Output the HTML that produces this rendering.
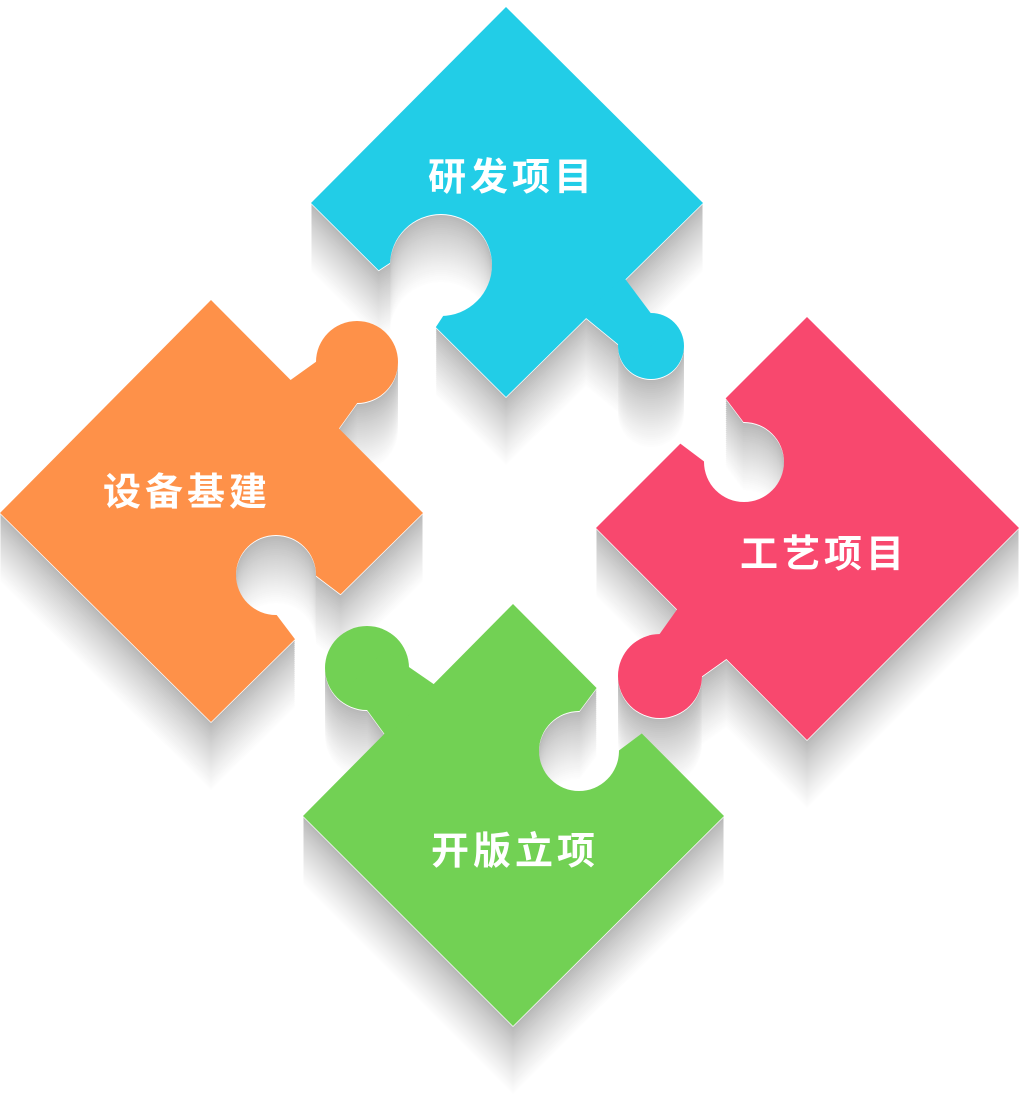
<!DOCTYPE html>
<html><head><meta charset="utf-8">
<style>
html,body{margin:0;padding:0;background:#fff;}
svg{display:block;}
text{font-family:"Liberation Sans","Noto Sans CJK SC",sans-serif;font-size:38px;fill:#fff;letter-spacing:4px;font-weight:bold;}
</style></head>
<body>
<svg id="s" width="1019" height="1107" viewBox="0 0 1019 1107" xmlns="http://www.w3.org/2000/svg">
<defs id="d"></defs>
<g id="sh"></g>
<g id="pc"></g>
<text x="512" y="190" text-anchor="middle">研发项目</text>
<text x="187" y="505" text-anchor="middle">设备基建</text>
<text x="824" y="567" text-anchor="middle">工艺项目</text>
<text x="515" y="864" text-anchor="middle">开版立项</text>
</svg>
<script>
var NS="http://www.w3.org/2000/svg";
var P=[
 {id:"b",col:"#22cde7",pts:[[506,7],[703,203],[506,397],[311,203]],knob:{m:[606,299],c:[651,346],r:33},hole:{m:[407,299],c:[441,265],r:51}},
 {id:"o",col:"#fe9149",pts:[[211,300],[423,513],[211,722],[0,513]],knob:{m:[315,404],c:[357,362],r:41},hole:{m:[318,617],c:[276,575],r:40}},
 {id:"p",col:"#f8486e",pts:[[807,317],[1019,528],[807,740],[596,528]],knob:{m:[702,634],c:[660,676],r:42},hole:{m:[703,421],c:[744,462],r:40}},
 {id:"g",col:"#72d154",pts:[[513,604],[724,816],[513,1026],[303,816]],knob:{m:[409,709],c:[367,668],r:42},hole:{m:[619,711],c:[579,751],r:40}}
];
function el(t,a,p){var e=document.createElementNS(NS,t);for(var k in a)e.setAttribute(k,a[k]);if(p)p.appendChild(e);return e;}
function neck(m,c,r,ext){
 var dx=c[0]-m[0],dy=c[1]-m[1],L=Math.hypot(dx,dy);var ux=dx/L,uy=dy/L,nx=-uy,ny=ux;
 var w1=r*1.0,w2=r*0.7;
 var mx=m[0]-ux*ext,my=m[1]-uy*ext;
 return [[mx+nx*w1,my+ny*w1],[c[0]+nx*w2,c[1]+ny*w2],[c[0]-nx*w2,c[1]-ny*w2],[mx-nx*w1,my-ny*w1]].map(function(p){return p.join(",")}).join(" ");
}
var d=document.getElementById("d"),sh=document.getElementById("sh"),pc=document.getElementById("pc");
P.forEach(function(p){
 var mk=el("mask",{id:"m"+p.id,maskUnits:"userSpaceOnUse",x:-100,y:-100,width:1300,height:1400},d);
 el("rect",{x:-100,y:-100,width:1300,height:1400,fill:"#fff"},mk);
 el("circle",{cx:p.hole.c[0],cy:p.hole.c[1],r:p.hole.r,fill:"#000"},mk);
 el("polygon",{points:neck(p.hole.m,p.hole.c,p.hole.r*0.85,14),fill:"#000"},mk);
 var g=el("g",{id:"P"+p.id},d);
 var gi=el("g",{mask:"url(#m"+p.id+")"},g);
 el("polygon",{points:p.pts.map(function(q){return q.join(",")}).join(" ")},gi);
 el("circle",{cx:p.knob.c[0],cy:p.knob.c[1],r:p.knob.r},gi);
 el("polygon",{points:neck(p.knob.m,p.knob.c,p.knob.r*0.85,4)},gi);
});
for(var k=70;k>=2;k-=2){
 var t=k/70;var v=Math.round(178+(255-178)*Math.pow(t,0.8));
 var col="rgb("+v+","+v+","+v+")";
 P.forEach(function(p){el("use",{href:"#P"+p.id,fill:col,transform:"translate(0,"+k+")"},sh);});
}
P.forEach(function(p){
 el("use",{href:"#P"+p.id,fill:"#fff",transform:"translate(0,1)"},pc);
 el("use",{href:"#P"+p.id,fill:p.col},pc);
});
</script>
</body></html>
